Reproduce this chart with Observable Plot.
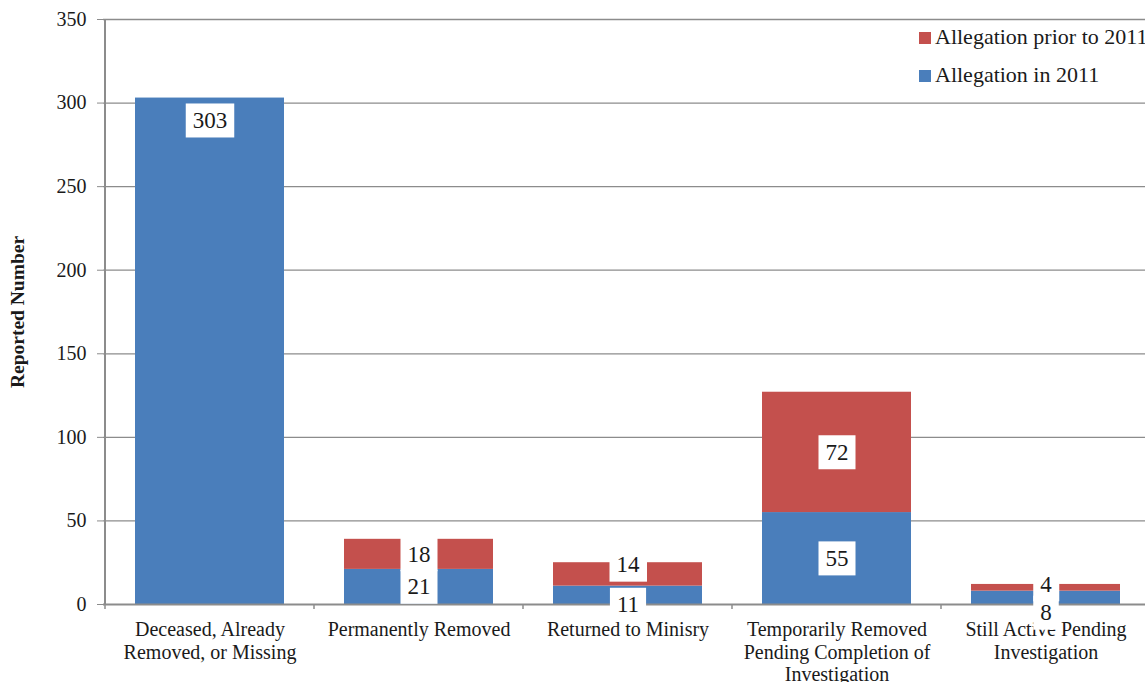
<!DOCTYPE html>
<html>
<head>
<meta charset="utf-8">
<script src="https://cdn.jsdelivr.net/npm/d3@7"></script>
<script src="https://cdn.jsdelivr.net/npm/@observablehq/plot@0.6"></script>
<style>
  html, body { margin: 0; padding: 0; background: #fff; overflow: hidden; }
  #wrap { position: relative; width: 1145px; height: 682px; font-family: "Liberation Serif", "Times New Roman", serif; }
  #legend { position: absolute; left: 919px; top: 18px; font-size: 22px; color: #1a1a1a; white-space: nowrap; }
  #legend .row { display: flex; align-items: center; height: 38px; }
  #legend .sw { width: 12px; height: 12px; margin-right: 4px; margin-top: 2px; }
</style>
</head>
<body>
<div id="wrap"></div>
<script>
const categories = [
  "Deceased, Already\nRemoved, or Missing",
  "Permanently Removed",
  "Returned to Minisry",
  "Temporarily Removed\nPending Completion of\nInvestigation",
  "Still Active Pending\nInvestigation"
];
const inYear = [303, 21, 11, 55, 8];
const priorYears = [0, 18, 14, 72, 4];
const seriesNames = ["Allegation in 2011", "Allegation prior to 2011"];
const seriesColors = ["#4A7EBB", "#C4504D"];
const yTicks = [0, 50, 100, 150, 200, 250, 300, 350];
const legendOrder = ["Allegation prior to 2011", "Allegation in 2011"];
const yTitle = "Reported Number";

const rows = [];
categories.forEach((c, i) => {
  rows.push({cat: c, series: seriesNames[0], value: inYear[i]});
  rows.push({cat: c, series: seriesNames[1], value: priorYears[i]});
});

// label positions (segment centres, big bar labelled near its top, crowded pairs pushed apart)
const labels = [];
categories.forEach((c, i) => {
  const b = inYear[i], p = priorYears[i];
  let yb = b > 200 ? b - 13.5 : b / 2;
  let yr = b + p / 2;
  if (p > 0 && yr - yb < 15) {
    const mid = (yr + yb) / 2;
    yr = Math.min(mid + 12, b + p);
    yb = mid - 12;
  }
  labels.push({cat: c, y: yb, text: String(b)});
  if (p > 0) labels.push({cat: c, y: yr, text: String(p)});
});

const serif = "'Liberation Serif', 'Times New Roman', serif";
const gray = "#8C8C8C";
const plot = Plot.plot({
  width: 1145,
  height: 682,
  marginLeft: 103,
  marginRight: 0,
  marginTop: 19,
  marginBottom: 78,
  style: {fontFamily: serif, color: "#1a1a1a", background: "#fff", overflow: "hidden"},
  x: {domain: categories, range: [103, 1153], paddingInner: 0.2857, paddingOuter: 0.1429, label: null},
  y: {domain: [0, 350], label: null},
  color: {domain: seriesNames, range: seriesColors},
  marks: [
    Plot.ruleY(yTicks.filter(d => d > 0), {stroke: gray, strokeWidth: 1.3, strokeOpacity: 1}),
    Plot.barY(rows, {x: "cat", y: "value", fill: "series", order: seriesNames}),
    Plot.ruleY([0], {stroke: gray, strokeWidth: 2}),
    Plot.ruleX([categories[0]], {x: d => d, dx: -105, y1: 0, y2: 350, stroke: gray, strokeWidth: 2}),
    Plot.ruleX(categories, {x: d => d, dx: -105, y1: 0, y2: -3, stroke: gray, strokeWidth: 1.5}),
    Plot.axisY({ticks: yTicks, tickSize: 6, tickPadding: 11, fontSize: 20, fontFamily: serif, stroke: gray, label: null, tickFormat: d => String(d)}),
    Plot.axisX({tickSize: 0, tickPadding: 16, fontSize: 20, fontFamily: serif, lineHeight: 1.125, label: null}),
    Plot.text([yTitle], {frameAnchor: "left", textAnchor: "middle", rotate: -90, dx: -86, fontSize: 19.5, fontWeight: "bold", fontFamily: serif, fill: "#1a1a1a", ariaLabel: "ylabel"}),
    Plot.text(labels, {x: "cat", y: "y", text: "text", fontSize: 23, fontFamily: serif, fontVariant: "normal", fill: "#1a1a1a", ariaLabel: "datalabels"})
  ]
});

const wrap = document.getElementById("wrap");
wrap.appendChild(plot);

// white boxes behind data labels
const groups = Array.from(plot.querySelectorAll("g[aria-label]"));
const lblGroup = groups.find(g => g.getAttribute("aria-label") === "datalabels") || groups[groups.length - 1];
lblGroup.querySelectorAll("text").forEach(t => {
  const bb = t.getBBox();
  const tr = t.getAttribute("transform");
  const r = document.createElementNS("http://www.w3.org/2000/svg", "rect");
  const padX = 7, h = 34;
  const cy = bb.y + bb.height / 2;
  r.setAttribute("x", bb.x - padX);
  r.setAttribute("y", cy - h / 2);
  r.setAttribute("width", bb.width + 2 * padX);
  r.setAttribute("height", h);
  r.setAttribute("fill", "#fff");
  if (tr) r.setAttribute("transform", tr);
  t.parentNode.insertBefore(r, t);
});

// legend
const legend = document.createElement("div");
legend.id = "legend";
legendOrder.forEach(name => {
  const row = document.createElement("div");
  row.className = "row";
  const sw = document.createElement("div");
  sw.className = "sw";
  sw.style.background = seriesColors[seriesNames.indexOf(name)];
  const tx = document.createElement("span");
  tx.textContent = name;
  row.appendChild(sw); row.appendChild(tx);
  legend.appendChild(row);
});
wrap.appendChild(legend);
</script>
</body>
</html>
